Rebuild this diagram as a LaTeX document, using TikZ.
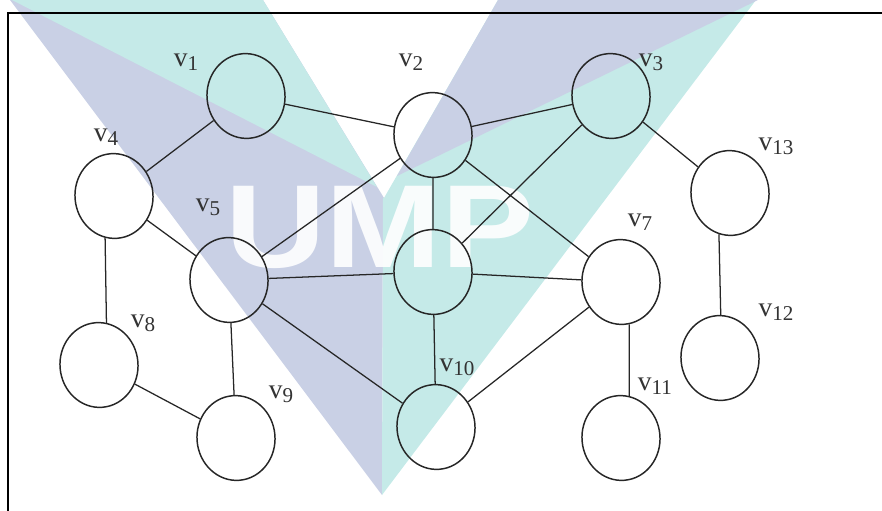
\documentclass[tikz,border=0pt]{standalone}
\usepackage{fontspec}
\setmainfont{Liberation Serif}
\newfontfamily\logofont{Liberation Sans}
\usetikzlibrary{shapes.geometric}
\definecolor{wmteal}{HTML}{C5EAE8}
\definecolor{wmlav}{HTML}{C9D0E5}
\newcommand{\vname}[1]{v\raisebox{-2.8pt}{\fontsize{15}{15}\selectfont #1}}

\begin{document}
\begin{tikzpicture}[x=0.025cm,y=-0.025cm,
  vert/.style={ellipse,draw=black!85,line width=1.05pt,minimum width=1.95cm,
    minimum height=2.12cm,inner sep=0pt,rotate=5},
  lab/.style={inner sep=0pt,text=black!80,font=\fontsize{19.5}{20}\selectfont},
  e/.style={line width=0.9pt,black!85}]
\useasboundingbox (0,0) rectangle (882,511);
% watermark
\fill[wmlav] (10,0) -- (263,0) -- (384,198) -- (383,198) -- (382,495) -- cycle;
\fill[wmteal] (498,0) -- (756,0) -- (382,495) -- (383,198) -- (384,198) -- cycle;
\fill[wmteal] (12,0) -- (263,0) -- (377,187) -- cycle;
\fill[wmlav] (498,0) -- (758,0) -- (397,176) -- cycle;
\node[font={\logofont\bfseries\fontsize{84}{84}\selectfont},text=white,opacity=0.9,
  xscale=1.18,anchor=base,inner sep=0pt] (logo) at (380,268) {UMP};
% frame
\draw[line width=1.4pt] (882,13) -- (8,13) -- (8,511);
% vertices
\node[vert] (v1) at (246,96) {};
\node[vert] (v2) at (433,135) {};
\node[vert] (v3) at (611,96) {};
\node[vert] (v4) at (114,196) {};
\node[vert] (v5) at (229,280) {};
\node[vert] (v6) at (433,272) {};
\node[vert] (v7) at (621,282) {};
\node[vert] (v8) at (99,365) {};
\node[vert] (v9) at (236,438) {};
\node[vert] (v10) at (436,427) {};
\node[vert] (v11) at (621,438) {};
\node[vert] (v12) at (720,358) {};
\node[vert] (v13) at (730,193) {};
% labels
\node[lab] (lv1) at (186,62) {\vname{1}};
\node[lab] (lv2) at (411,62) {\vname{2}};
\node[lab] (lv3) at (651,62) {\vname{3}};
\node[lab] (lv4) at (106,137) {\vname{4}};
\node[lab] (lv5) at (208,207) {\vname{5}};
\node[lab] (lv7) at (640,222) {\vname{7}};
\node[lab] (lv8) at (143,323) {\vname{8}};
\node[lab] (lv9) at (281,394) {\vname{9}};
\node[lab] (lv10) at (457,367) {\vname{10}};
\node[lab] (lv11) at (655,386) {\vname{11}};
\node[lab] (lv12) at (776,312) {\vname{12}};
\node[lab] (lv13) at (776,146) {\vname{13}};
% edges
\draw[e] (v1)--(v2) (v1)--(v4) (v2)--(v3) (v2)--(v5) (v2)--(v6) (v2)--(v7)
  (v3)--(v6) (v3)--(v13) (v4)--(v5) (v4.-107)--(v8.75) (v5)--(v6) (v5)--(v9)
  (v5)--(v10) (v6)--(v7) (v6)--(v10) (v7)--(v10) (v7.-84)--(v11.74)
  (v13.-110)--(v12.84) (v8)--(v9);
\end{tikzpicture}
\end{document}
